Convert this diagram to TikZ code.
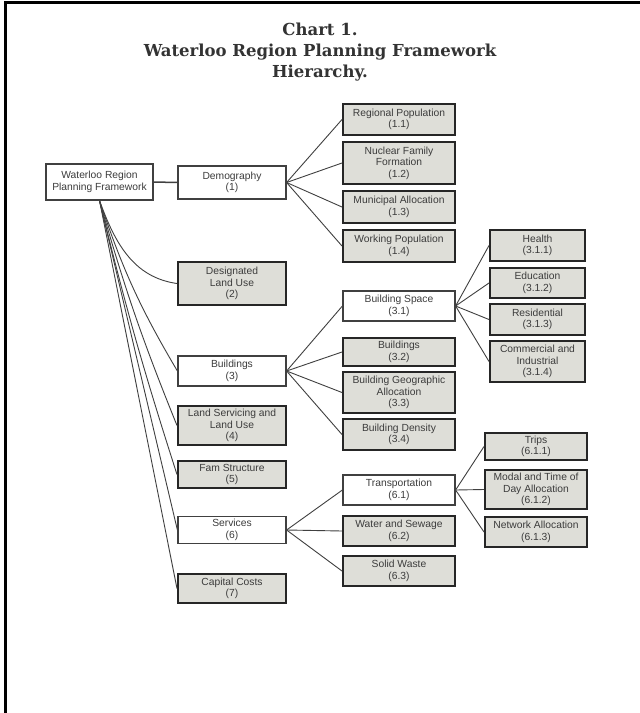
\documentclass[tikz,border=0pt]{standalone}
\usepackage{fontspec}
\setmainfont{Liberation Serif}
\newfontfamily\titlefont{DejaVu Serif}
\newfontfamily\boxfont{Liberation Sans}
\definecolor{boxgray}{RGB}{222,222,216}
\definecolor{ink}{RGB}{60,60,60}
\tikzset{
  base/.style={rectangle, inner sep=0pt, align=center, text=ink,
    font=\boxfont\fontsize{10.3}{11.5}\selectfont},
  wbox/.style={base, fill=white, draw=black!75, line width=1.2pt},
  gbox/.style={base, fill=boxgray, draw=black!85, line width=2pt},
  link/.style={draw=black!75, line width=0.9pt},
}
\newcommand\bx[6]{\node[#1, minimum width=#4pt, minimum height=#5pt] (#2) at (#3) {#6};}
\begin{document}
\begin{tikzpicture}[x=1pt,y=-1pt]
\useasboundingbox (0,0) rectangle (640,713);
\fill[white] (0,0) rectangle (640,713);
\draw[line width=3pt] (5.5,713) -- (5.5,2.5) -- (640,2.5);

\node[align=center, font=\titlefont\bfseries\fontsize{16.5}{21}\selectfont, text=black!80] (title) at (320,52)
  {Chart 1.\\Waterloo Region Planning Framework\\Hierarchy.};

% level 0/1
\bx{wbox}{root}{99.5,182}{107}{36}{Waterloo Region\\Planning Framework}
\bx{wbox}{d1}{232,182.5}{108}{33}{Demography\\(1)}
\bx{gbox}{d2}{232,283.5}{108}{43}{Designated\\Land Use\\(2)}
\bx{wbox}{d3}{232,371}{108}{30}{Buildings\\(3)}
\bx{gbox}{d4}{232,425.5}{108}{39}{Land Servicing and\\Land Use\\(4)}
\bx{gbox}{d5}{232,474.5}{108}{27}{Fam Structure\\(5)}
\bx{wbox}{d6}{232,530}{108}{27}{Services\\(6)}
\bx{gbox}{d7}{232,588.5}{108}{29}{Capital Costs\\(7)}

% level 2
\bx{gbox}{p11}{399,119.5}{112}{31}{Regional Population\\(1.1)}
\bx{gbox}{p12}{399,163}{112}{42}{Nuclear Family\\Formation\\(1.2)}
\bx{gbox}{p13}{399,207}{112}{32}{Municipal Allocation\\(1.3)}
\bx{gbox}{p14}{399,246}{112}{32}{Working Population\\(1.4)}
\bx{wbox}{b31}{399,306}{112}{30}{Building Space\\(3.1)}
\bx{gbox}{b32}{399,352}{112}{28}{Buildings\\(3.2)}
\bx{gbox}{b33}{399,392.5}{112}{41}{Building Geographic\\Allocation\\(3.3)}
\bx{gbox}{b34}{399,434.5}{112}{31}{Building Density\\(3.4)}
\bx{wbox}{s61}{399,490}{112}{30}{Transportation\\(6.1)}
\bx{gbox}{s62}{399,531}{112}{30}{Water and Sewage\\(6.2)}
\bx{gbox}{s63}{399,571}{112}{30}{Solid Waste\\(6.3)}

% level 3
\bx{gbox}{h311}{537.5,245.5}{95}{31}{Health\\(3.1.1)}
\bx{gbox}{h312}{537.5,283}{95}{30}{Education\\(3.1.2)}
\bx{gbox}{h313}{537.5,319.5}{95}{31}{Residential\\(3.1.3)}
\bx{gbox}{h314}{537.5,361.5}{95}{41}{Commercial and\\Industrial\\(3.1.4)}
\bx{gbox}{t611}{536,446.5}{102}{27}{Trips\\(6.1.1)}
\bx{gbox}{t612}{536,489.5}{102}{39}{Modal and Time of\\Day Allocation\\(6.1.2)}
\bx{gbox}{t613}{536,532}{102}{30}{Network Allocation\\(6.1.3)}

% connectors
\draw[link, line width=1.5pt] (root.east) -- (d1.west);
\draw[link] (root.south) to[out=-70,in=172] (d2.west);
\draw[link] (root.south) to[bend right=6] (d3.west);
\draw[link] (root.south) to[bend right=3] (d4.west);
\draw[link] (root.south) to[bend right=2] (d5.west);
\draw[link] (root.south) -- (d6.west);
\draw[link] (root.south) -- (d7.west);

\foreach \c in {p11,p12,p13,p14} \draw[link] (d1.east) -- (\c.west);
\foreach \c in {b31,b32,b33,b34} \draw[link] (d3.east) -- (\c.west);
\foreach \c in {s61,s62,s63} \draw[link] (d6.east) -- (\c.west);
\foreach \c in {h311,h312,h313,h314} \draw[link] (b31.east) -- (\c.west);
\foreach \c in {t611,t612,t613} \draw[link] (s61.east) -- (\c.west);
\end{tikzpicture}
\end{document}
